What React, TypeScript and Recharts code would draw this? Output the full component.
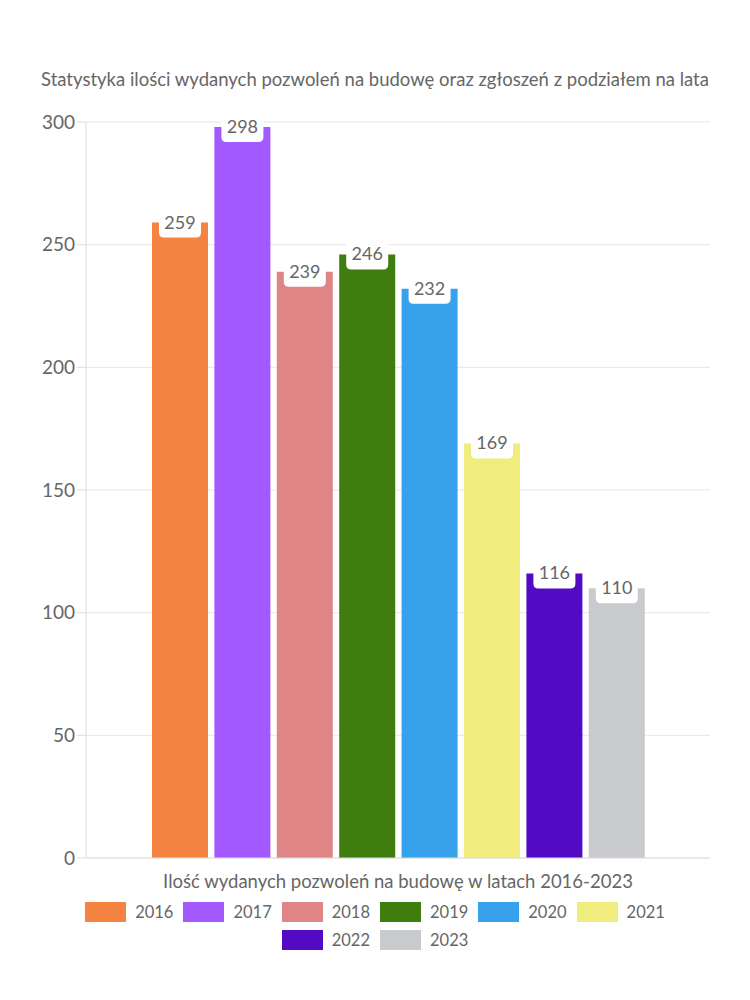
import React from "react";
import { BarChart, Bar, XAxis, YAxis, CartesianGrid, LabelList } from "recharts";

const years = ["2016", "2017", "2018", "2019", "2020", "2021", "2022", "2023"];
const permits = [259, 298, 239, 246, 232, 169, 116, 110];
const colors = ["#F58442", "#A259FF", "#E08585", "#3F7D0E", "#36A2EB", "#F0EC7D", "#520BC2", "#C9CACD"];
const yTicks = [0, 50, 100, 150, 200, 250, 300];

const category = "Ilość wydanych pozwoleń na budowę w latach 2016-2023";
const title = "Statystyka ilości wydanych pozwoleń na budowę oraz zgłoszeń z podziałem na lata";

const FONT = "Lato, sans-serif";
const TEXT = "#666666";

const row: Record<string, string | number> = { name: category };
years.forEach((y, i) => {
  row[y] = permits[i];
});
const chartData = [row];

// white tab with the value, sitting on top of the bar
function ValueTab(props: any) {
  const { x, y, width, value } = props;
  const cx = x + width / 2;
  const w = 42;
  const top = y - 14;
  const bottom = y + 15;
  const r = 5;
  const l = cx - w / 2;
  const rt = cx + w / 2;
  const d = `M${l},${top} L${rt},${top} L${rt},${bottom - r} Q${rt},${bottom} ${rt - r},${bottom} L${l + r},${bottom} Q${l},${bottom} ${l},${bottom - r} Z`;
  return (
    <g>
      <path d={d} fill="#ffffff" />
      <text x={cx} y={y + 6} textAnchor="middle" fill={TEXT} fontSize={18} fontFamily={FONT}>
        {value}
      </text>
    </g>
  );
}

export default function App() {
  return (
    <div style={{ position: "absolute", left: 0, top: 0, width: 750, height: 1000, background: "#fff", fontFamily: FONT }}>
      <div
        style={{
          position: "absolute",
          top: 68,
          left: 0,
          width: 750,
          textAlign: "center",
          color: TEXT,
          fontSize: 18.5,
          whiteSpace: "nowrap",
        }}
      >
        {title}
      </div>
      <BarChart
        width={750}
        height={1000}
        data={chartData}
        margin={{ top: 122, right: 40, left: 40, bottom: 112 }}
        barSize={56}
        barGap={6.4}
      >
        <CartesianGrid vertical={false} stroke="#e6e6e6" />
        <XAxis
          dataKey="name"
          tick={false}
          height={30}
          stroke="#dddddd"
          tickLine={false}
          label={{ value: category, position: "insideBottom", offset: 0, fill: TEXT, fontSize: 18.5, fontFamily: FONT }}
        />
        <YAxis
          domain={[0, 300]}
          ticks={yTicks}
          width={46}
          stroke="#dddddd"
          tickSize={9}
          tick={{ fill: TEXT, fontSize: 19, fontFamily: FONT }}
        />
        <YAxis
          yAxisId="r"
          orientation="right"
          domain={[0, 300]}
          width={0}
          tick={false}
          tickLine={false}
          stroke="#dddddd"
        />
        {years.map((y, i) => (
          <Bar key={y} dataKey={y} fill={colors[i]} isAnimationActive={false}>
            <LabelList dataKey={y} content={<ValueTab />} />
          </Bar>
        ))}
      </BarChart>
      <div
        style={{
          position: "absolute",
          top: 902,
          left: 60,
          width: 630,
          display: "flex",
          flexWrap: "wrap",
          justifyContent: "center",
          columnGap: 10,
          rowGap: 8,
          color: TEXT,
          fontSize: 16.5,
          lineHeight: "20px",
        }}
      >
        {years.map((y, i) => (
          <div key={y} style={{ display: "flex", alignItems: "center" }}>
            <div style={{ width: 41, height: 20, background: colors[i], marginRight: 9 }} />
            <span>{y}</span>
          </div>
        ))}
      </div>
    </div>
  );
}
